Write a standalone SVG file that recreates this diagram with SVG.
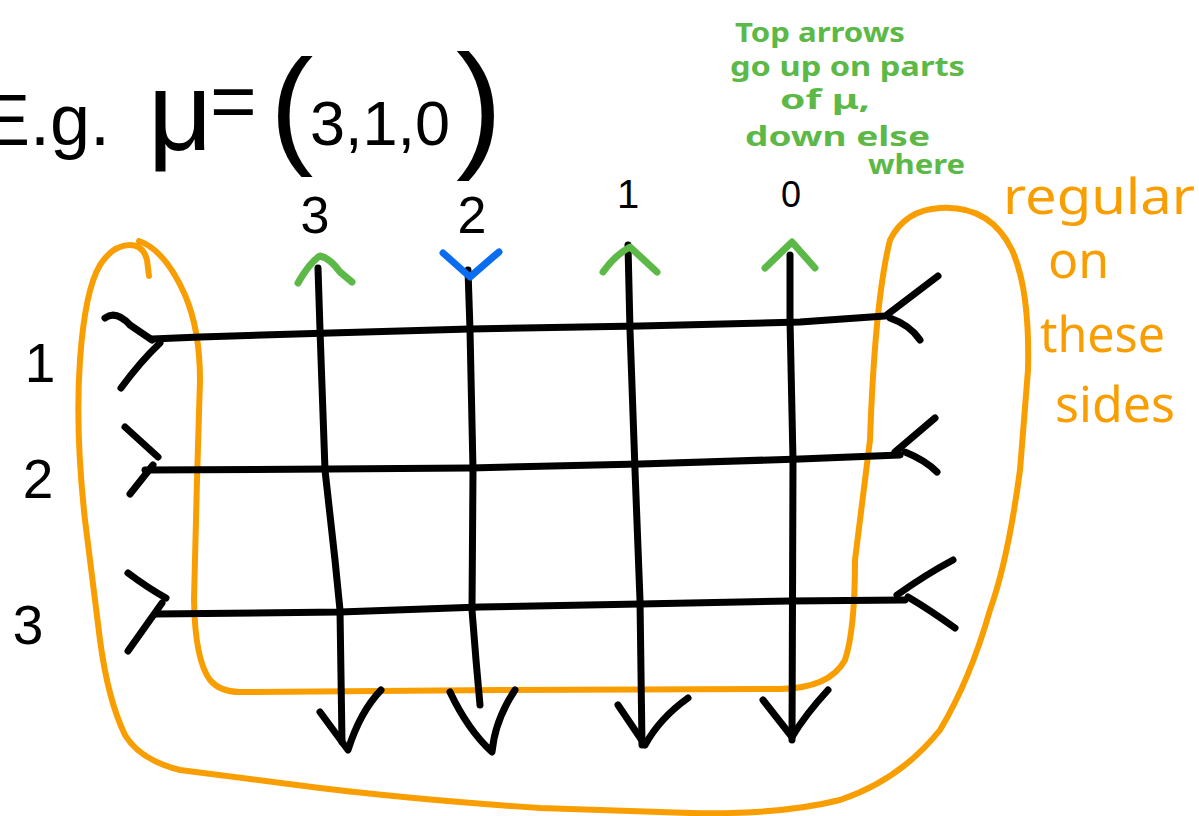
<svg xmlns="http://www.w3.org/2000/svg" width="1199" height="816" viewBox="0 0 1199 816">
<style>
.ink{fill:none;stroke:#000;stroke-width:7;stroke-linecap:round;stroke-linejoin:round}
.grn{fill:none;stroke:#5cb947;stroke-width:7;stroke-linecap:round;stroke-linejoin:round}
.blu{fill:none;stroke:#0a6cf0;stroke-width:7;stroke-linecap:round;stroke-linejoin:round}
.org{fill:none;stroke:#f99e00;stroke-width:6;stroke-linecap:round;stroke-linejoin:round}
.t{font-family:"Liberation Sans","DejaVu Sans",sans-serif;fill:#000}
.gt{font-family:"Noto Sans","DejaVu Sans",sans-serif;font-weight:700;font-size:26px;fill:#5cb947}
.ot{font-family:"Noto Sans","DejaVu Sans",sans-serif;font-size:50px;fill:#f99e00}
</style>
<rect width="1199" height="816" fill="#fff"/>

<g id="title">
<text class="t" x="-18" y="145" font-size="72">E.g.</text>
<text class="t" x="148" y="150" font-size="112">μ</text>
<text class="t" x="210" y="128" font-size="80">=</text>
<text class="t" x="270" y="150" font-size="130">(</text>
<text class="t" x="310" y="145" font-size="63">3,1,0</text>
<text class="t" x="456" y="152" font-size="140">)</text>
</g>

<g id="note">
<text class="gt" x="735" y="42" textLength="170" lengthAdjust="spacingAndGlyphs">Top arrows</text>
<text class="gt" x="730" y="76" textLength="235" lengthAdjust="spacingAndGlyphs">go up on parts</text>
<text class="gt" x="780" y="109" textLength="90" lengthAdjust="spacingAndGlyphs">of μ,</text>
<text class="gt" x="745" y="146" textLength="185" lengthAdjust="spacingAndGlyphs">down else</text>
<text class="gt" x="868" y="174" textLength="97" lengthAdjust="spacingAndGlyphs">where</text>
</g>

<g id="side-note">
<text class="ot" x="1003" y="214" textLength="192" lengthAdjust="spacingAndGlyphs">regular</text>
<text class="ot" x="1048" y="278">on</text>
<text class="ot" x="1040" y="352" textLength="125" lengthAdjust="spacingAndGlyphs">these</text>
<text class="ot" x="1055" y="422" textLength="120" lengthAdjust="spacingAndGlyphs">sides</text>
</g>

<g id="col-labels">
<text class="t" x="315" y="233" font-size="52" text-anchor="middle">3</text>
<text class="t" x="472" y="233" font-size="52" text-anchor="middle">2</text>
<text class="t" x="628" y="208" font-size="40" text-anchor="middle">1</text>
<text class="t" x="791" y="207" font-size="36" text-anchor="middle">0</text>
</g>

<g id="row-labels">
<text class="t" x="40" y="382" font-size="55" text-anchor="middle">1</text>
<text class="t" x="38" y="498" font-size="55" text-anchor="middle">2</text>
<text class="t" x="28" y="644" font-size="55" text-anchor="middle">3</text>
</g>

<g id="boundary">
<path class="org" d="M139,241 Q165,250 185,295 Q200,330 200,380 L197,480 L194,600 Q195,660 210,680 Q220,692 240,692 L500,690 L780,689 Q830,688 845,660 Q855,630 855,560 L870,440 Q875,300 890,240 Q905,210 940,208 Q990,205 1012,250 Q1030,290 1028,370 L1020,470 Q1008,560 990,610 Q970,680 940,730 Q900,780 840,800 Q780,815 690,813 L540,808 Q420,800 320,788 Q220,775 180,770 Q140,760 125,735 Q108,700 100,640 L85,520 Q75,430 80,360 Q85,290 100,265 Q113,245 130,245 Q143,245 147,260 L149,276"/>
</g>

<g id="connectors">
<path class="ink" d="M152,339 L200,337 L330,333 L470,329 L640,326 L800,322 L885,316"/>
<path class="ink" d="M145,470 L330,469 L470,468 L640,464 L800,459 L900,455"/>
<path class="ink" d="M155,614 L340,612 L480,607 L640,604 L790,601 L905,600"/>
<path class="ink" d="M318,268 L320,330 L325,470 L335,560 L340,610 L342,742"/>
<path class="ink" d="M468,270 L470,330 L473,470 L472,610 L476,660 L480,705"/>
<path class="ink" d="M628,245 L630,330 L635,470 L640,600 L642,745"/>
<path class="ink" d="M790,255 L790,320 L793,460 L792,740"/>
<path class="ink" d="M105,318 Q116,310 130,325 L152,340 M160,343 Q140,362 121,388"/>
<path class="ink" d="M125,427 L158,457 M153,465 L130,494"/>
<path class="ink" d="M128,573 Q148,588 166,598 M162,603 L128,651"/>
<path class="ink" d="M938,276 L888,314 M890,318 Q910,325 920,340"/>
<path class="ink" d="M935,418 L895,452 M905,452 Q925,460 937,472"/>
<path class="ink" d="M953,560 Q925,575 897,595 M908,597 Q930,610 955,628"/>
<path class="ink" d="M320,712 L348,750 Q360,712 381,690"/>
<path class="ink" d="M450,692 Q468,730 492,752 Q495,720 515,690"/>
<path class="ink" d="M618,705 L645,745 Q660,718 688,698"/>
<path class="ink" d="M763,700 L792,737 Q805,715 828,690"/>
<path class="grn" d="M298,283 Q310,262 320,256 Q330,258 340,272 L352,282"/>
<path class="blu" d="M443,253 L470,277 L493,257 L499,252"/>
<path class="grn" d="M603,272 Q615,255 630,247 L657,272"/>
<path class="grn" d="M765,268 L792,242 L815,268"/>
</g>
</svg>
